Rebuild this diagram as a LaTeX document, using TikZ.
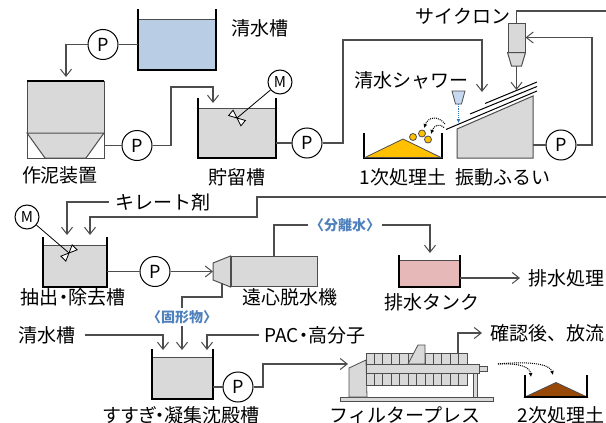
\documentclass[tikz,border=0pt]{standalone}
\usepackage{fontspec}
\setmainfont{Noto Sans CJK JP}
\newfontfamily\propfont[RawFeature=+palt]{Noto Sans CJK JP}
\usetikzlibrary{arrows.meta,calc}
\definecolor{ln}{HTML}{4D4D4D}
\definecolor{grayF}{HTML}{D9D9D9}
\definecolor{blueF}{HTML}{B9CDE5}
\definecolor{nozzleF}{HTML}{C6D9F1}
\definecolor{pinkF}{HTML}{E6B9B8}
\definecolor{goldF}{HTML}{FFC000}
\definecolor{brownF}{HTML}{984807}
\definecolor{tagblue}{HTML}{4F81BD}
\definecolor{showerB}{HTML}{2E75B6}
\begin{document}
\begin{tikzpicture}[x=1pt,y=-1pt,
  flow/.style={draw=ln, line width=1.1pt},
  arr/.style={flow, -{Straight Barb[length=7pt,width=11pt,line width=1pt]}},
  wall/.style={draw=black, line width=1.5pt},
  pump/.style={circle, draw=black, line width=1pt, fill=white, minimum size=30pt, inner sep=0pt, font=\fontsize{18}{18}\selectfont},
  motor/.style={pump, minimum size=24pt, font=\fontsize{15}{15}\selectfont},
  water/.style={draw=ln, line width=1pt, inner sep=0pt, outer sep=0pt},
  body/.style={draw=ln, line width=1pt, fill=grayF},
  lbl/.style={inner sep=0pt, font=\fontsize{19}{19}\selectfont},
  plbl/.style={lbl, font=\propfont\fontsize{19}{19}\selectfont},
  tag/.style={inner sep=2pt, fill=white, text=tagblue, font=\bfseries\fontsize{14}{14}\selectfont},
  dots/.style={draw=black, densely dotted, line width=1pt, -{Latex[length=4pt,width=4pt]}},
  blade/.style={draw=black, line width=0.8pt, fill=white},
]
\useasboundingbox[fill=white] (0,0) rectangle (606,423);

% ================= row 1 =================
% clear water tank
\node[water, fill=blueF, minimum width=78pt, minimum height=51pt] (cw1) at (177,44.5) {};
\draw[wall] (138,9) |- (cw1.south east) -- (216,9);
\node[lbl] (lcw1) at (260,28) {清水槽};
\node[pump] (p1) at (103,44.5) {P};
\draw[flow] (cw1.west) -- (p1);
\coordinate (mudin) at (66,77);
\draw[arr] (p1.west) -| (mudin);

% mud making unit
\node[water, fill=grayF, minimum width=77pt, minimum height=52pt] (mud) at (65.5,107) {};
\draw[black, line width=1.5pt] (mud.north west) -- (mud.north east);
\node[water, fill=white, minimum width=77pt, minimum height=25pt] (hop) at (65.5,145.5) {};
\draw[body] (hop.north west) -- (hop.north east) -- (86,158) -- (45,158) -- cycle;
\node[lbl] (lmud) at (60,175) {作泥装置};
\node[pump] (p2) at (137,145.5) {P};
\draw[flow] (hop.east) -- (p2);
\coordinate (stin) at (213,103);
\draw[arr] (p2.east) -- (171,145.5) |- (213,87) -- (stin);

% storage tank with mixer
\node[water, fill=grayF, minimum width=78pt, minimum height=50pt] (st) at (237,133) {};
\draw[wall, line width=1.2pt] (198,98) |- (st.south east) -- (276,98);
\node[lbl] (lst) at (237,177) {貯留槽};
\node[motor] (m1) at (280,82) {M};
\coordinate (hub1) at (237,118);
\draw[black, line width=0.8pt] (m1) -- (hub1);
\begin{scope}[shift={(hub1)}, rotate=-40]
  \draw[blade] (0,0) -- (8,-3.5) -- (8,3.5) -- cycle;
  \draw[blade] (0,0) -- (-8,-3.5) -- (-8,3.5) -- cycle;
\end{scope}
\node[pump] (p3) at (307,143) {P};
\draw[flow] (p3.west -| st.east) -- (p3.west);
\coordinate (scrin1) at (482,92);
\draw[arr] (p3.east) -- (343,143) |- (482,40) -- (scrin1);

% first-stage soil
\draw[wall, line width=1.8pt] (364,133) |- (442,158) -- (442,133);
\draw[draw=ln, line width=0.8pt, fill=goldF] (365,157.5) -- (403,139) -- (441,157.5) -- cycle;
\node[lbl] (lsoil1) at (403,177) {1次処理土};
\foreach \gx/\gy in {413/137,422/133.5,428/139.5}
  \draw[draw=ln, line width=0.8pt, fill=goldF] (\gx,\gy) circle[radius=3.5];
\coordinate (ovf1) at (445,124);
\coordinate (ovf2) at (444,127.5);
\coordinate (gr1) at (424,128);
\coordinate (gr2) at (431,134);
\draw[dots] (ovf1) .. controls (438,115) and (428,117) .. (gr1);
\draw[dots] (ovf2) .. controls (440,123) and (434,125) .. (gr2);

% shower nozzle
\node[lbl] (lshower) at (411,80) {清水シャワー};
\draw[draw=ln, line width=0.8pt, fill=nozzleF] (452,91) -- (465,91) -- (461.5,104) -- (455.5,104) -- cycle;
\coordinate (nz) at (458.5,104);
\coordinate (nzend) at (458.5,123);
\draw[showerB, densely dotted, line width=1.2pt, -{Latex[length=4pt,width=4pt]}] (nz) -- (nzend);

% vibrating screen
\draw[body] (457,158) -- (457,129) -- (533,96) -- (533,158) -- cycle;
\draw[black, line width=1pt] (446,129.5) -- (537,91);
\draw[black, line width=1pt] (470,114) -- (537,86.5);
\draw[black, line width=1pt] (485,103.5) -- (537,82);
\node[lbl] (lscr) at (503,177) {振動ふるい};
\coordinate (scrR) at (533,145);
\node[pump] (p4) at (561,145) {P};
\draw[flow] (scrR) -- (p4);

% cyclone
\node[body, inner sep=0pt, minimum width=17pt, minimum height=29pt] (cyc) at (516.5,37.5) {};
\draw[body] (cyc.south west) -- (cyc.south east) -- (521.5,66) -- (511.5,66) -- cycle;
\node[lbl] (lcyc) at (463,16) {サイクロン};
\coordinate (cycbot) at (516.5,66);
\coordinate (scrin2) at (516.5,90);
\draw[arr] (cycbot) -- (scrin2);
\draw[arr] (p4.east) -- (592,145) |- (cyc.east);
\coordinate (cycout) at (607,11);
\draw[flow] (cyc.north) |- (cycout);

% ================= row 2 =================
\coordinate (retin) at (607,197);
\coordinate (extin2) at (90,235);
\draw[arr] (retin) -- (257,197) |- (90,217) -- (extin2);
\node[lbl, outer xsep=7pt] (lchel) at (163,202) {キレート剤};
\coordinate (extin1) at (67,235);
\draw[arr] (lchel.west) -| (extin1);

% extraction tank with mixer
\node[water, fill=grayF, minimum width=64pt, minimum height=42pt] (ext) at (75,266) {};
\draw[wall, line width=1.2pt] (43,237) |- (ext.south east) -- (107,237);
\node[plbl] (lext) at (73,297) {抽出・除去槽};
\node[motor] (m2) at (27,217) {M};
\coordinate (hub2) at (69,253);
\draw[black, line width=0.8pt] (m2) -- (hub2);
\begin{scope}[shift={(hub2)}, rotate=45]
  \draw[blade] (0,0) -- (8,-3.5) -- (8,3.5) -- cycle;
  \draw[blade] (0,0) -- (-8,-3.5) -- (-8,3.5) -- cycle;
\end{scope}
\node[pump] (p5) at (155,271.5) {P};
\draw[flow] (p5.west -| ext.east) -- (p5.west);

% centrifuge
\node[body, inner sep=0pt, minimum width=86pt, minimum height=30pt] (cf) at (274,271.5) {};
\draw[body] (cf.north west) -- (213,263) -- (213,280) -- (cf.south west) -- cycle;
\coordinate (cfin) at (213,271.5);
\draw[arr] (p5.east) -- (cfin);
\node[lbl] (lcf) at (290,297) {遠心脱水機};

% separated water to drain tank
\node[tag] (tsep) at (345,225) {〈分離水〉};
\draw[flow] (cf.north) |- (tsep.west);
\node[water, fill=pinkF, minimum width=61pt, minimum height=27pt] (dt) at (429.5,273.5) {};
\draw[wall, line width=1.2pt] (399,255) |- (dt.south east) -- (460,255);
\coordinate (dtin) at (430,253);
\draw[arr] (tsep.east) -| (dtin);
\node[lbl] (ldt) at (432,302) {排水タンク};
\node[lbl, outer xsep=8pt] (lww) at (566,278) {排水処理};
\draw[arr] (dt.east |- lww.west) -- (lww.west);

% ================= row 3 =================
\coordinate (cfbot) at (222,283);
\coordinate (rin2) at (182,350);
\draw[arr] (cfbot) -- (222,297) -| (rin2);
\node[tag] (tsol) at (182,317) {〈固形物〉};

\node[lbl, outer xsep=9pt] (lcw2) at (47,335) {清水槽};
\coordinate (rin1) at (163,350);
\draw[arr] (lcw2.east) -| (rin1);
\node[plbl, outer xsep=6pt] (lpac) at (315,335) {PAC・高分子};
\coordinate (rin3) at (207,350);
\draw[arr] (lpac.west) -| (rin3);

% rinse / coagulation tank
\node[water, fill=grayF, minimum width=61pt, minimum height=42pt] (rt) at (182.5,378) {};
\draw[wall, line width=2pt] (152,349) |- (rt.south east) -- (213,349);
\node[plbl] (lrt) at (182,415) {すすぎ・凝集沈殿槽};
\node[pump] (p6) at (238,387) {P};
\draw[flow] (p6.west -| rt.east) -- (p6.west);
\coordinate (fpin) at (348,364);
\draw[arr] (p6.east) -- (263,387) |- (fpin);

% filter press
\draw[draw=ln, line width=0.8pt, fill=grayF] (340,397) rectangle (493,401);
\draw[draw=ln, line width=0.8pt, fill=grayF] (349,397) -- (349,368) -- (366,360) -- (367,397) -- cycle;
\draw[draw=ln, line width=0.8pt, fill=grayF] (473,373) rectangle (477.5,397);
\draw[draw=ln, line width=0.8pt, fill=grayF] (366,353) rectangle (467,364);
\draw[draw=ln, line width=0.8pt, fill=grayF] (366,373) rectangle (467,385);
\foreach \i in {1,...,11} {
  \draw[ln, line width=0.8pt] ({366+\i*8.4167},353) -- +(0,11);
  \draw[ln, line width=0.8pt] ({366+\i*8.4167},373) -- +(0,12);
}
\draw[draw=ln, line width=0.8pt, fill=grayF] (366,364) rectangle (479,373);
\draw[draw=ln, line width=0.8pt, fill=grayF] (479,366.5) rectangle (487,371);
\draw[draw=ln, line width=0.8pt, fill=grayF] (408,364) -- (418,345) -- (425,345) -- (425,364) -- cycle;
\node[lbl] (lfp) at (405,415) {フィルタープレス};
\coordinate (fpout) at (458,353);
\node[lbl, outer xsep=8pt] (lrel) at (547,333) {確認後、放流};
\draw[arr] (fpout) |- (lrel.west);

% second-stage soil
\draw[draw=ln, line width=0.8pt, fill=brownF] (525,397) -- (556,382.5) -- (587,397) -- cycle;
\draw[black, line width=1.2pt] (525,375) |- (587,397) -- (587,375);
\node[lbl] (lsoil2) at (561,415) {2次処理土};
\coordinate (cake) at (498,364);
\coordinate (s2a) at (531,377);
\coordinate (s2b) at (553,375);
\draw[dots] (cake) .. controls (520,363) and (530,367) .. (s2a);
\draw[dots] (cake) .. controls (530,361) and (550,364) .. (s2b);
\end{tikzpicture}
\end{document}
